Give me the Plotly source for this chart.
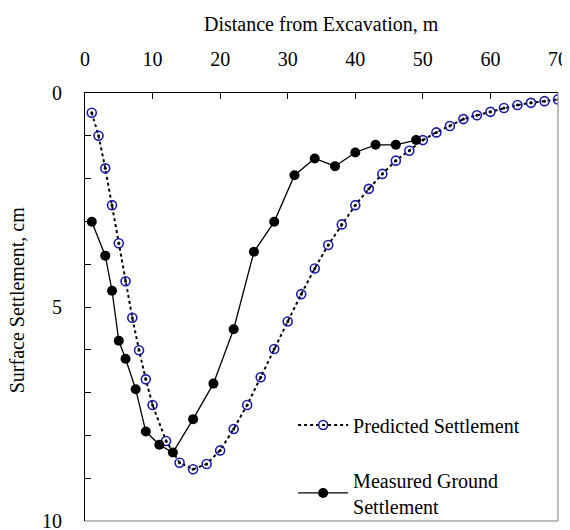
import plotly.graph_objects as go

# Predicted settlement (distance m, settlement cm)
pred_x = [1, 2, 3, 4, 5, 6, 7, 8, 9, 10,
          12, 14, 16, 18, 20, 22, 24, 26, 28, 30,
          32, 34, 36, 38, 40, 42, 44, 46, 48, 50,
          52, 54, 56, 58, 60, 62, 64, 66, 68, 70]
pred_y = [0.46, 1.00, 1.76, 2.62, 3.51, 4.40, 5.25, 6.01, 6.69, 7.29,
          8.13, 8.64, 8.79, 8.67, 8.35, 7.85, 7.29, 6.64, 5.98, 5.34,
          4.70, 4.10, 3.55, 3.07, 2.62, 2.24, 1.89, 1.58, 1.35, 1.10,
          0.92, 0.77, 0.61, 0.52, 0.44, 0.35, 0.28, 0.23, 0.19, 0.15]

# Measured ground settlement
meas_x = [1, 3, 4, 5, 6, 7.5, 9, 11, 13, 16, 19, 22, 25, 28, 31, 34, 37, 40, 43, 46, 49]
meas_y = [3.01, 3.80, 4.62, 5.79, 6.21, 6.92, 7.91, 8.22, 8.40, 7.62, 6.79, 5.52,
          3.71, 3.01, 1.92, 1.53, 1.71, 1.39, 1.21, 1.21, 1.10]

x_ticks = [0, 10, 20, 30, 40, 50, 60, 70]
y_ticks = [0, 5, 10]

x_title = "Distance from Excavation, m"
y_title = "Surface Settlement, cm"
pred_name = "Predicted Settlement"
meas_name = "Measured Ground<br>Settlement"

FONT = "Times New Roman, Liberation Serif, serif"
BLUE = "#1c1ca8"

fig = go.Figure()

fig.add_trace(go.Scatter(
    x=pred_x, y=pred_y, mode="lines+markers", name=pred_name,
    legendgroup="a",
    line=dict(color="black", width=2, dash="dot"),
    marker=dict(symbol="circle-open", size=9, color=BLUE, line=dict(width=1.6, color=BLUE)),
))
fig.add_trace(go.Scatter(
    x=pred_x, y=pred_y, mode="markers", showlegend=False, hoverinfo="skip",
    marker=dict(symbol="circle", size=3, color="black"),
))
fig.add_trace(go.Scatter(
    x=meas_x, y=meas_y, mode="lines+markers", name=meas_name,
    legendgroup="b",
    line=dict(color="black", width=1.3),
    marker=dict(symbol="circle", size=10, color="black"),
))

fig.update_layout(
    width=562, height=522,
    margin=dict(l=77, r=12, t=85, b=9, autoexpand=False),
    paper_bgcolor="white", plot_bgcolor="white",
    font=dict(family=FONT, size=20, color="black"),
    showlegend=True,
    legend=dict(
        x=0.44, y=0.27, xanchor="left", yanchor="top",
        bgcolor="rgba(0,0,0,0)", font=dict(family=FONT, size=20),
        tracegroupgap=26, itemwidth=50,
    ),
    xaxis=dict(
        side="top", range=[0, 70], tickmode="array", tickvals=x_ticks,
        ticks="inside", ticklen=6, tickcolor="black", tickwidth=1,
        showline=True, linecolor="black", linewidth=1,
        showgrid=False, zeroline=False, automargin=False,
        ticklabelstandoff=18, ticklabeloverflow="allow",
        tickfont=dict(family=FONT, size=20),
    ),
    yaxis=dict(
        range=[10.0001, -0.0001], tickmode="array", tickvals=y_ticks,
        ticks="inside", ticklen=6, tickcolor="black", tickwidth=1,
        minor=dict(tickmode="linear", tick0=0, dtick=1, ticks="inside", ticklen=6,
                   tickcolor="black", tickwidth=1, showgrid=False),
        showline=True, linecolor="black", linewidth=1,
        showgrid=False, zeroline=False, automargin=False,
        ticklabelstandoff=18, ticklabeloverflow="allow",
        tickfont=dict(family=FONT, size=20),
    ),
    shapes=[
        dict(type="line", xref="paper", yref="paper", x0=0, x1=1, y0=0, y1=0,
             line=dict(color="#a6a6a6", width=1.5)),
        dict(type="line", xref="paper", yref="paper", x0=1, x1=1, y0=0, y1=1,
             line=dict(color="#a6a6a6", width=1.5)),
    ],
    annotations=[
        dict(text=x_title, xref="paper", yref="paper", x=0.5, y=1.161,
             xanchor="center", yanchor="middle", showarrow=False,
             font=dict(family=FONT, size=20)),
        dict(text=y_title, xref="paper", yref="paper", x=-0.1435, y=0.516,
             xanchor="center", yanchor="middle", textangle=-90, showarrow=False,
             font=dict(family=FONT, size=20)),
    ],
)

fig.write_html("out.html")
